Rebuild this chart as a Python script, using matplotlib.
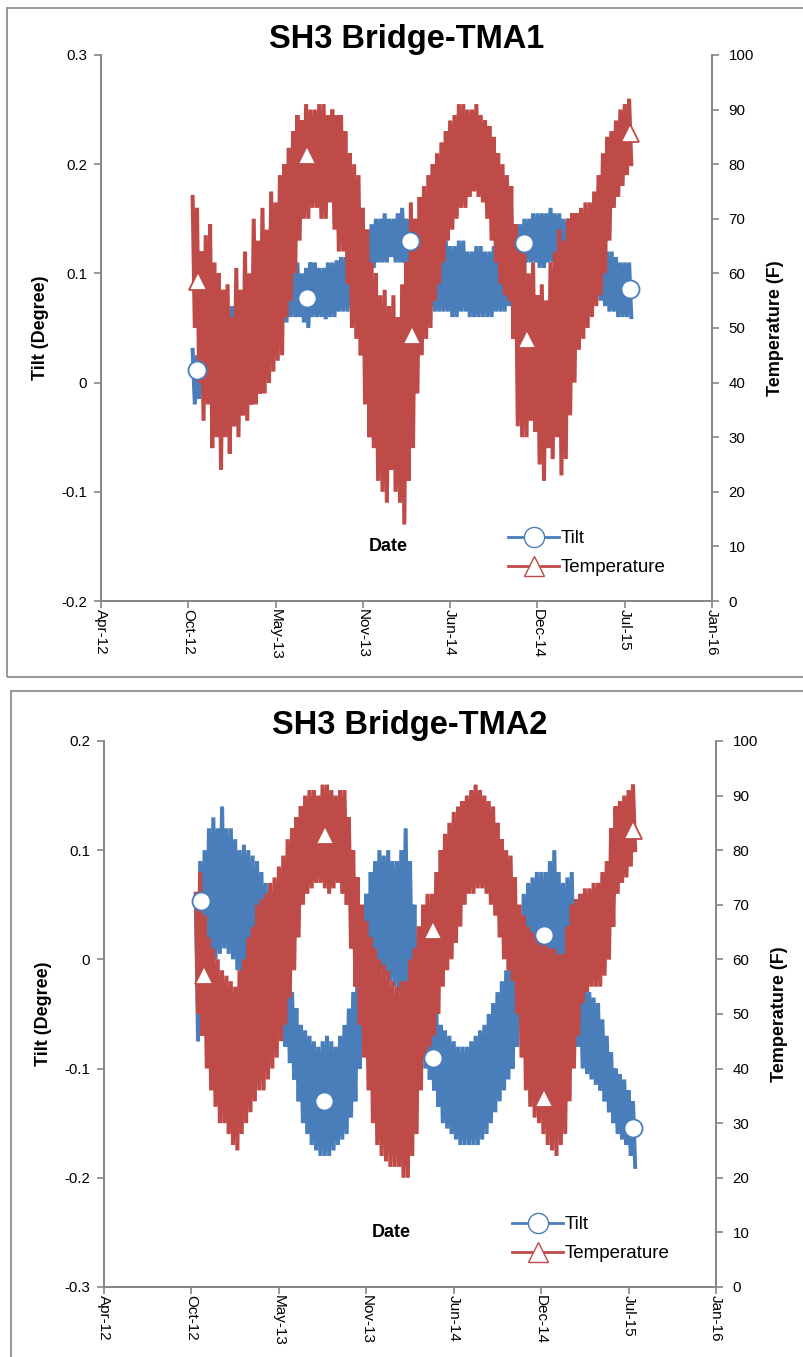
import numpy as np
import pandas as pd
import matplotlib
matplotlib.use("Agg")
import matplotlib.pyplot as plt
import matplotlib.dates as mdates
from matplotlib.patches import Rectangle
from matplotlib.lines import Line2D

plt.rcParams["font.family"] = ["Liberation Sans", "DejaVu Sans"]
plt.rcParams["axes.unicode_minus"] = False

# sample dates (every 10 days); each sample holds the daily high and low of the band
sample_dates = pd.date_range("2012-10-28", periods=101, freq="10D")
half_step = pd.Timedelta(days=5)

# ---- TMA1 ----
tma1_temp_hi = [74, 72, 64, 67, 69, 62, 60, 57, 58, 52, 61, 57, 64, 60, 70, 66, 72, 68, 75, 73,
                78, 80, 83, 86, 89, 88, 91, 90, 90, 91, 91, 89, 90, 89, 89, 86, 82, 80, 78, 72,
                68, 62, 60, 56, 57, 54, 56, 52, 58, 62, 73, 70, 74, 76, 78, 80, 82, 84, 86, 88,
                89, 91, 91, 90, 90, 91, 89, 88, 87, 85, 82, 80, 78, 76, 69, 66, 64, 60, 62, 56,
                58, 55, 62, 64, 68, 66, 70, 71, 71, 72, 73, 73, 75, 78, 82, 85, 86, 88, 90, 91, 92]
tma1_temp_lo = [50, 40, 33, 36, 28, 30, 24, 30, 27, 32, 30, 34, 33, 36, 36, 38, 38, 40, 42, 44,
                45, 52, 55, 60, 66, 70, 70, 72, 72, 70, 70, 73, 68, 64, 64, 58, 50, 48, 45, 36,
                30, 28, 22, 20, 18, 24, 20, 18, 14, 22, 28, 38, 45, 48, 50, 55, 58, 62, 66, 68,
                70, 72, 72, 74, 75, 74, 73, 70, 66, 62, 58, 56, 55, 48, 32, 30, 30, 33, 31, 25,
                22, 28, 26, 30, 23, 26, 34, 40, 46, 48, 50, 52, 54, 56, 60, 66, 72, 74, 76, 78, 80]
tma1_tilt_hi = [0.03, 0.025, 0.035, 0.045, 0.05, 0.055, 0.06, 0.06, 0.065, 0.07, 0.07, 0.075,
                0.08, 0.085, 0.09, 0.09, 0.095, 0.1, 0.1, 0.1, 0.1, 0.105, 0.105, 0.11, 0.11,
                0.1, 0.105, 0.11, 0.11, 0.105, 0.105, 0.11, 0.11, 0.112, 0.115, 0.115, 0.12,
                0.125, 0.13, 0.135, 0.14, 0.145, 0.15, 0.15, 0.155, 0.15, 0.15, 0.155, 0.16,
                0.15, 0.14, 0.135, 0.13, 0.13, 0.13, 0.125, 0.125, 0.13, 0.13, 0.125, 0.125,
                0.13, 0.13, 0.12, 0.12, 0.125, 0.125, 0.12, 0.12, 0.125, 0.125, 0.125, 0.13,
                0.135, 0.14, 0.145, 0.15, 0.15, 0.155, 0.155, 0.155, 0.155, 0.16, 0.155, 0.155,
                0.15, 0.15, 0.145, 0.14, 0.135, 0.13, 0.125, 0.12, 0.12, 0.12, 0.12, 0.12,
                0.115, 0.11, 0.11, 0.11]
tma1_tilt_lo = [-0.02, -0.015, -0.01, 0.0, 0.0, 0.01, 0.02, 0.025, 0.03, 0.03, 0.035, 0.04,
                0.04, 0.045, 0.045, 0.05, 0.05, 0.05, 0.055, 0.055, 0.055, 0.055, 0.06, 0.06,
                0.06, 0.055, 0.05, 0.06, 0.06, 0.06, 0.058, 0.06, 0.06, 0.065, 0.065, 0.065,
                0.07, 0.08, 0.09, 0.095, 0.1, 0.105, 0.11, 0.11, 0.11, 0.115, 0.11, 0.11, 0.11,
                0.1, 0.09, 0.08, 0.075, 0.07, 0.07, 0.065, 0.065, 0.065, 0.065, 0.06, 0.06,
                0.065, 0.065, 0.06, 0.06, 0.06, 0.06, 0.06, 0.06, 0.065, 0.065, 0.065, 0.07,
                0.09, 0.1, 0.105, 0.11, 0.11, 0.11, 0.105, 0.105, 0.11, 0.11, 0.105, 0.1, 0.1,
                0.1, 0.09, 0.08, 0.075, 0.075, 0.08, 0.08, 0.075, 0.07, 0.065, 0.065, 0.06,
                0.06, 0.06, 0.06]
tma1_tilt_mark_dates = ["2012-11-07", "2013-07-17", "2014-03-10", "2014-11-26", "2015-07-27"]
tma1_tilt_mark = [0.0115, 0.0775, 0.130, 0.128, 0.086]
tma1_temp_mark_dates = ["2012-11-09", "2013-07-17", "2014-03-15", "2014-12-03", "2015-07-27"]
tma1_temp_mark = [58.6, 81.7, 48.7, 48.0, 85.7]

# ---- TMA2 ----
tma2_temp_hi = [72, 76, 68, 64, 62, 60, 58, 57, 56, 55, 58, 60, 64, 66, 70, 71, 72, 74, 75, 77,
                79, 82, 84, 86, 88, 90, 91, 91, 90, 92, 92, 91, 90, 91, 91, 86, 80, 75, 70, 67,
                64, 62, 60, 59, 58, 56, 55, 56, 56, 60, 62, 66, 70, 72, 72, 76, 80, 83, 85, 87,
                88, 89, 90, 91, 92, 91, 90, 89, 88, 85, 82, 80, 79, 75, 70, 68, 66, 65, 64, 63,
                63, 62, 62, 61, 61, 66, 70, 71, 72, 73, 73, 74, 74, 76, 78, 84, 88, 89, 90, 91, 92]
tma2_temp_lo = [50, 46, 40, 36, 33, 30, 30, 28, 26, 25, 28, 30, 32, 34, 36, 36, 38, 40, 42, 45,
                48, 53, 58, 64, 70, 72, 73, 74, 74, 73, 72, 73, 74, 72, 70, 62, 55, 48, 42, 36,
                30, 26, 24, 23, 22, 22, 22, 20, 20, 24, 28, 36, 42, 44, 46, 50, 55, 58, 60, 63,
                66, 70, 72, 72, 73, 73, 72, 70, 68, 64, 60, 58, 56, 50, 42, 36, 33, 31, 30, 28,
                26, 25, 24, 26, 28, 34, 40, 46, 52, 54, 55, 55, 55, 57, 60, 66, 72, 74, 75, 77, 80]
tma2_tilt_hi = [0.06, 0.09, 0.1, 0.12, 0.13, 0.12, 0.14, 0.12, 0.12, 0.11, 0.1, 0.105, 0.1,
                0.095, 0.09, 0.08, 0.07, 0.06, 0.05, 0.035, 0.02, -0.01, -0.03, -0.045, -0.06,
                -0.065, -0.07, -0.075, -0.08, -0.075, -0.07, -0.075, -0.08, -0.07, -0.06,
                -0.045, -0.03, 0.0, 0.03, 0.06, 0.08, 0.09, 0.1, 0.095, 0.1, 0.09, 0.09, 0.1,
                0.12, 0.09, 0.05, 0.02, 0.0, -0.015, -0.03, -0.045, -0.06, -0.065, -0.07,
                -0.075, -0.08, -0.08, -0.08, -0.075, -0.07, -0.065, -0.06, -0.05, -0.04, -0.03,
                -0.02, -0.01, 0.0, 0.02, 0.04, 0.06, 0.07, 0.075, 0.08, 0.08, 0.08, 0.09, 0.1,
                0.08, 0.07, 0.075, 0.08, 0.02, -0.02, -0.025, -0.03, -0.035, -0.04, -0.055,
                -0.07, -0.085, -0.1, -0.105, -0.11, -0.12, -0.13]
tma2_tilt_lo = [-0.075, -0.06, -0.04, -0.02, 0.0, 0.005, 0.01, 0.005, 0.0, -0.01, -0.02, -0.025,
                -0.03, -0.035, -0.04, -0.045, -0.05, -0.055, -0.06, -0.07, -0.08, -0.095, -0.11,
                -0.13, -0.15, -0.16, -0.17, -0.175, -0.18, -0.18, -0.18, -0.175, -0.17, -0.165,
                -0.16, -0.145, -0.13, -0.1, -0.07, -0.045, -0.02, -0.015, -0.01, -0.015, -0.02,
                -0.025, -0.03, -0.035, -0.04, -0.05, -0.07, -0.085, -0.1, -0.11, -0.12, -0.135,
                -0.15, -0.155, -0.16, -0.165, -0.17, -0.17, -0.17, -0.17, -0.17, -0.165, -0.16,
                -0.15, -0.14, -0.13, -0.12, -0.11, -0.1, -0.08, -0.06, -0.045, -0.03, -0.03,
                -0.03, -0.025, -0.02, -0.025, -0.03, -0.035, -0.04, -0.045, -0.05, -0.08, -0.1,
                -0.105, -0.11, -0.115, -0.12, -0.13, -0.14, -0.15, -0.16, -0.165, -0.17, -0.18,
                -0.19]
tma2_tilt_mark_dates = ["2012-11-09", "2013-08-17", "2014-04-24", "2015-01-03", "2015-07-25"]
tma2_tilt_mark = [0.0535, -0.130, -0.090, 0.022, -0.154]
tma2_temp_mark_dates = ["2012-11-16", "2013-08-20", "2014-04-24", "2015-01-03", "2015-07-25"]
tma2_temp_mark = [57.1, 82.8, 65.4, 34.6, 83.7]

tick_dates = ["2012-04-01", "2012-10-18", "2013-05-06", "2013-11-22",
              "2014-06-10", "2014-12-27", "2015-07-15", "2016-01-31"]

BLUE = "#4A7EBB"
RED = "#BE4B48"
GRAY = "#868686"


def zigzag(a, hi, lo, color):
    xs, ys = [], []
    for d, h, l in zip(sample_dates, hi, lo):
        xs += [d, d + half_step]
        ys += [h, l]
    a.plot(xs, ys, color=color, lw=2.9, solid_joinstyle="miter")


def panel(rect, title, tilt_hi, tilt_lo, temp_hi, temp_lo,
          tilt_md, tilt_m, temp_md, temp_m, ylim):
    ax = fig.add_axes(rect)
    ax2 = ax.twinx()
    zigzag(ax, tilt_hi, tilt_lo, BLUE)
    zigzag(ax2, temp_hi, temp_lo, RED)
    # markers on top of both lines
    ax2.plot(pd.to_datetime(tilt_md), tilt_m, "o", ms=13, mfc="white",
             mec=BLUE, mew=1.3, transform=ax.transData, zorder=5)
    ax2.plot(pd.to_datetime(temp_md), temp_m, "^", ms=12.5, mfc="white",
             mec=RED, mew=1.3, zorder=5)

    ticks = pd.to_datetime(tick_dates)
    ax.set_xlim(ticks[0], ticks[-1])
    ax.set_xticks(ticks)
    ax.xaxis.set_major_formatter(mdates.DateFormatter("%b-%y"))
    ax.set_ylim(*ylim)
    ax.set_yticks(np.round(np.arange(ylim[0], ylim[1] + 0.01, 0.1), 1))
    ax.yaxis.set_major_formatter(plt.FuncFormatter(lambda v, p: f"{v:g}" if abs(v) > 1e-9 else "0"))
    ax2.set_ylim(0, 100)
    ax2.set_yticks(range(0, 101, 10))

    for a in (ax, ax2):
        a.spines["top"].set_visible(False)
        for s in ("left", "right", "bottom"):
            a.spines[s].set_color(GRAY)
            a.spines[s].set_linewidth(1.2)
        a.tick_params(colors=GRAY, labelcolor="black", labelsize=10.8, length=5, width=1.2)
    ax.tick_params(axis="y", pad=5)
    ax2.tick_params(axis="y", pad=7)
    ax.tick_params(axis="x", pad=1, labelsize=11)
    for lbl in ax.get_xticklabels():
        lbl.set_rotation(-90)
        lbl.set_va("top")
        lbl.set_ha("center")

    ax.set_ylabel("Tilt (Degree)", fontsize=13, fontweight="bold", labelpad=9)
    ax2.set_ylabel("Temperature (F)", fontsize=13, fontweight="bold", labelpad=9)
    ax.set_title(title, fontsize=23.5, fontweight="bold", pad=-2)
    ax.text(0.47, 0.1, "Date", transform=ax.transAxes, fontsize=13,
            fontweight="bold", ha="center", va="center")

    handles = [Line2D([], [], color=BLUE, lw=2, marker="o", ms=14.5, mfc="white", mec=BLUE),
               Line2D([], [], color=RED, lw=2, marker="^", ms=14.5, mfc="white", mec=RED)]
    ax2.legend(handles, ["Tilt", "Temperature"], loc="lower right",
               bbox_to_anchor=(0.952, 0.014), frameon=False, fontsize=13.5,
               handlelength=2.7, handletextpad=0.1, labelspacing=0.65)


fig = plt.figure(figsize=(8.04, 13.57), dpi=100)
fig.patches.append(Rectangle((0.0093, 0.501), 1.0, 0.493, transform=fig.transFigure,
                             fill=False, edgecolor=GRAY, lw=1.2))
fig.patches.append(Rectangle((0.0133, -0.01), 1.0, 0.5008, transform=fig.transFigure,
                             fill=False, edgecolor=GRAY, lw=1.2))

panel([0.1256, 0.5571, 0.76, 0.4024], "SH3 Bridge-TMA1",
      tma1_tilt_hi, tma1_tilt_lo, tma1_temp_hi, tma1_temp_lo,
      tma1_tilt_mark_dates, tma1_tilt_mark, tma1_temp_mark_dates, tma1_temp_mark,
      (-0.2, 0.3))
panel([0.1294, 0.0516, 0.7612, 0.4024], "SH3 Bridge-TMA2",
      tma2_tilt_hi, tma2_tilt_lo, tma2_temp_hi, tma2_temp_lo,
      tma2_tilt_mark_dates, tma2_tilt_mark, tma2_temp_mark_dates, tma2_temp_mark,
      (-0.3, 0.2))

fig.savefig("out.png", dpi=100)
